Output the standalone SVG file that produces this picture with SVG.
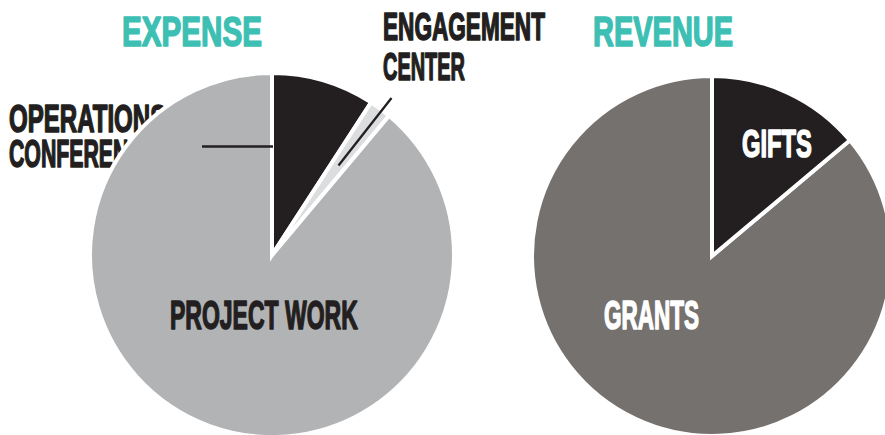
<svg xmlns="http://www.w3.org/2000/svg" width="885" height="435" viewBox="0 0 885 435">
<style>
.t{font-family:"Liberation Sans",Arial,sans-serif;font-weight:bold;stroke-linejoin:round;}
.h{fill:#3dbfb3;stroke:#3dbfb3;stroke-width:1.6;font-size:42px;}
.d{fill:#231f20;stroke:#231f20;stroke-width:1.6;}
.w{fill:#ffffff;stroke:#ffffff;stroke-width:1.6;}
.s{stroke:#ffffff;stroke-width:4;}
.ld{stroke:#231f20;fill:none;}
</style>
<rect width="885" height="435" fill="#ffffff"/>
<g id="titles">
<text class="t h" transform="translate(122,46) scale(0.706,1)">EXPENSE</text>
<text class="t h" transform="translate(593,46) scale(0.69,1)">REVENUE</text>
</g>
<g id="label-operations">
<text class="t d" font-size="38" transform="translate(9,132) scale(0.633,1)">OPERATIONS</text>
<text class="t d" font-size="38" transform="translate(9,167) scale(0.56,1)">CONFERENCES</text>
</g>
<g id="expense-pie">
<path class="s" fill="#b1b3b5" d="M272,255 L389,115.6 A182,182 0 1 1 272,73 Z"/>
<path class="s" fill="#231f20" d="M272,255 L272,73 A182,182 0 0 1 371.1,102.4 Z"/>
<path class="s" fill="#dcdddf" d="M272,255 L371.1,102.4 A182,182 0 0 1 389,115.6 Z"/>
<text class="t d" font-size="41" transform="translate(170,329) scale(0.561,1)">PROJECT WORK</text>
</g>
<g id="label-engagement">
<text class="t d" font-size="38" transform="translate(383,40) scale(0.595,1)">ENGAGEMENT</text>
<text class="t d" font-size="39" transform="translate(383,80) scale(0.511,1)">CENTER</text>
</g>
<g id="revenue-pie">
<path class="s" fill="#75716f" d="M712,256 L849.9,140.3 A180,180 0 1 1 712,76 Z"/>
<path class="s" fill="#231f20" d="M712,256 L712,76 A180,180 0 0 1 849.9,140.3 Z"/>
<text class="t w" font-size="39" transform="translate(742,157) scale(0.609,1)">GIFTS</text>
<text class="t w" font-size="41" transform="translate(604,329) scale(0.549,1)">GRANTS</text>
</g>
<g id="connectors">
<line class="ld" x1="202" y1="146.5" x2="273" y2="146.5" stroke-width="2.7"/>
<line class="ld" x1="338.5" y1="165.5" x2="391.5" y2="98" stroke-width="2.3"/>
</g>
</svg>
